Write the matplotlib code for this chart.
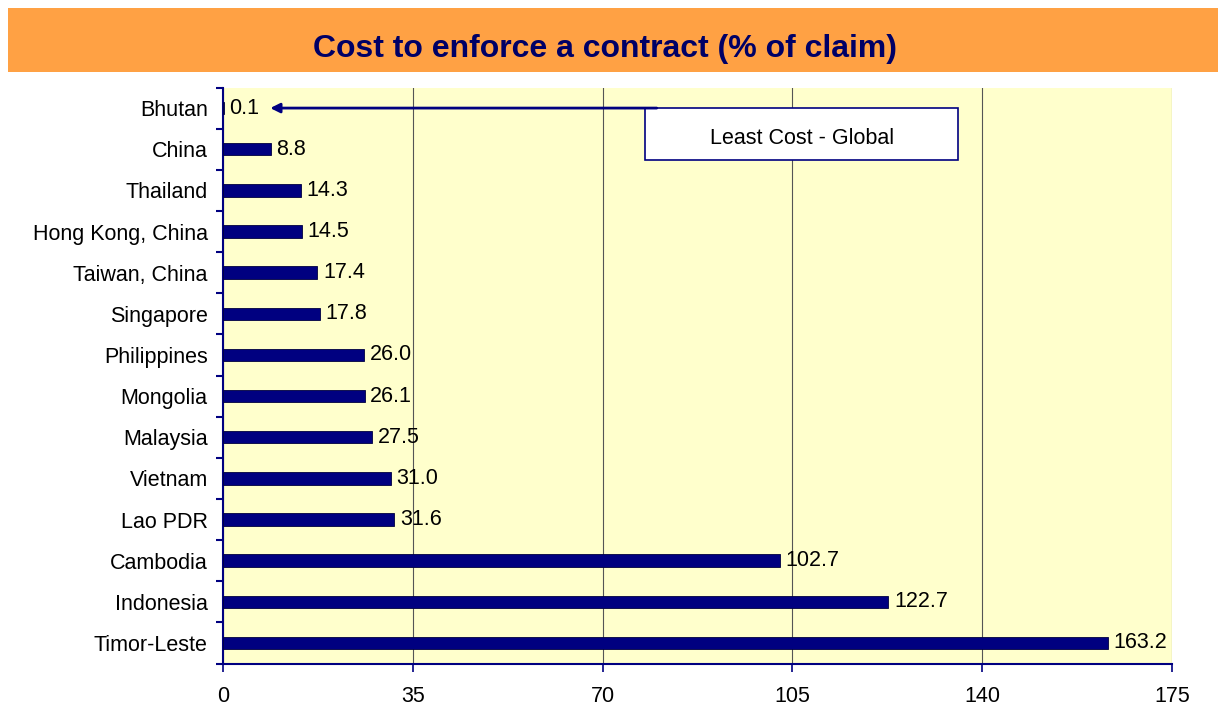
import matplotlib
matplotlib.use("Agg")
import matplotlib.pyplot as plt
from matplotlib.patches import Rectangle
from matplotlib.ticker import FixedLocator

countries = ["Bhutan", "China", "Thailand", "Hong Kong, China", "Taiwan, China",
             "Singapore", "Philippines", "Mongolia", "Malaysia", "Vietnam",
             "Lao PDR", "Cambodia", "Indonesia", "Timor-Leste"]
costs = [0.1, 8.8, 14.3, 14.5, 17.4, 17.8, 26.0, 26.1, 27.5, 31.0, 31.6, 102.7, 122.7, 163.2]
x_ticks = [0, 35, 70, 105, 140, 175]
title = "Cost to enforce a contract (% of claim)"
note = "Least Cost - Global"

NAVY = "#000080"
FS = 15.5
plt.rcParams["font.family"] = ["Liberation Sans", "DejaVu Sans"]

fig = plt.figure(figsize=(12.26, 7.13), dpi=100)

# orange title banner
fig.patches.append(Rectangle((8 / 1226, 1 - 72 / 713), 1210 / 1226, 64 / 713,
                             transform=fig.transFigure, facecolor="#FFA144",
                             edgecolor="none", zorder=0))
fig.text(605 / 1226, 1 - 49 / 713, title, ha="center", va="center",
         fontsize=23, fontweight="bold", color="#000066")

ax = fig.add_axes([223 / 1226, 1 - 663.5 / 713, 949 / 1226, 576 / 713])
ax.set_facecolor("#FFFFCC")

y = list(range(len(countries)))
ax.barh(y, costs, height=0.3, color=NAVY, edgecolor="#000040", linewidth=0.6, zorder=3)
for yi, v in zip(y, costs):
    ax.annotate(f"{v:.1f}", (v, yi), xytext=(4, 0), textcoords="offset points",
                va="center", ha="left", fontsize=FS, zorder=4)

ax.set_xlim(0, 175)
ax.set_ylim(len(countries) - 0.5, -0.5)
ax.set_xticks(x_ticks)
ax.set_xticklabels([str(t) for t in x_ticks], fontsize=FS)
ax.set_yticks(y)
ax.set_yticklabels(countries, fontsize=FS)
ax.yaxis.set_minor_locator(FixedLocator([i - 0.5 for i in range(len(countries) + 1)]))
ax.tick_params(axis="y", which="major", length=0, pad=11)
ax.tick_params(axis="y", which="minor", length=5, width=1.5, color=NAVY, direction="out")
ax.tick_params(axis="x", length=6, width=1.2, color=NAVY, pad=10)

ax.grid(axis="x", color="#555555", linewidth=0.8, zorder=1)
ax.set_axisbelow(True)
for side in ["top", "right"]:
    ax.spines[side].set_visible(False)
for side in ["left", "bottom"]:
    ax.spines[side].set_color(NAVY)
    ax.spines[side].set_linewidth(1.5)

# "least cost" call-out
ax.add_patch(Rectangle((77.8, 0.0), 57.8, 1.26, facecolor="white", edgecolor=NAVY,
                       linewidth=1.2, zorder=5))
ax.text(77.8 + 57.8 / 2, 0.73, note, ha="center", va="center", fontsize=FS, zorder=6)
ax.annotate("", xy=(8.2, 0), xytext=(80.5, 0),
            arrowprops=dict(arrowstyle="-|>", color=NAVY, lw=2, mutation_scale=14),
            zorder=6)

fig.savefig("out.png", dpi=100)
